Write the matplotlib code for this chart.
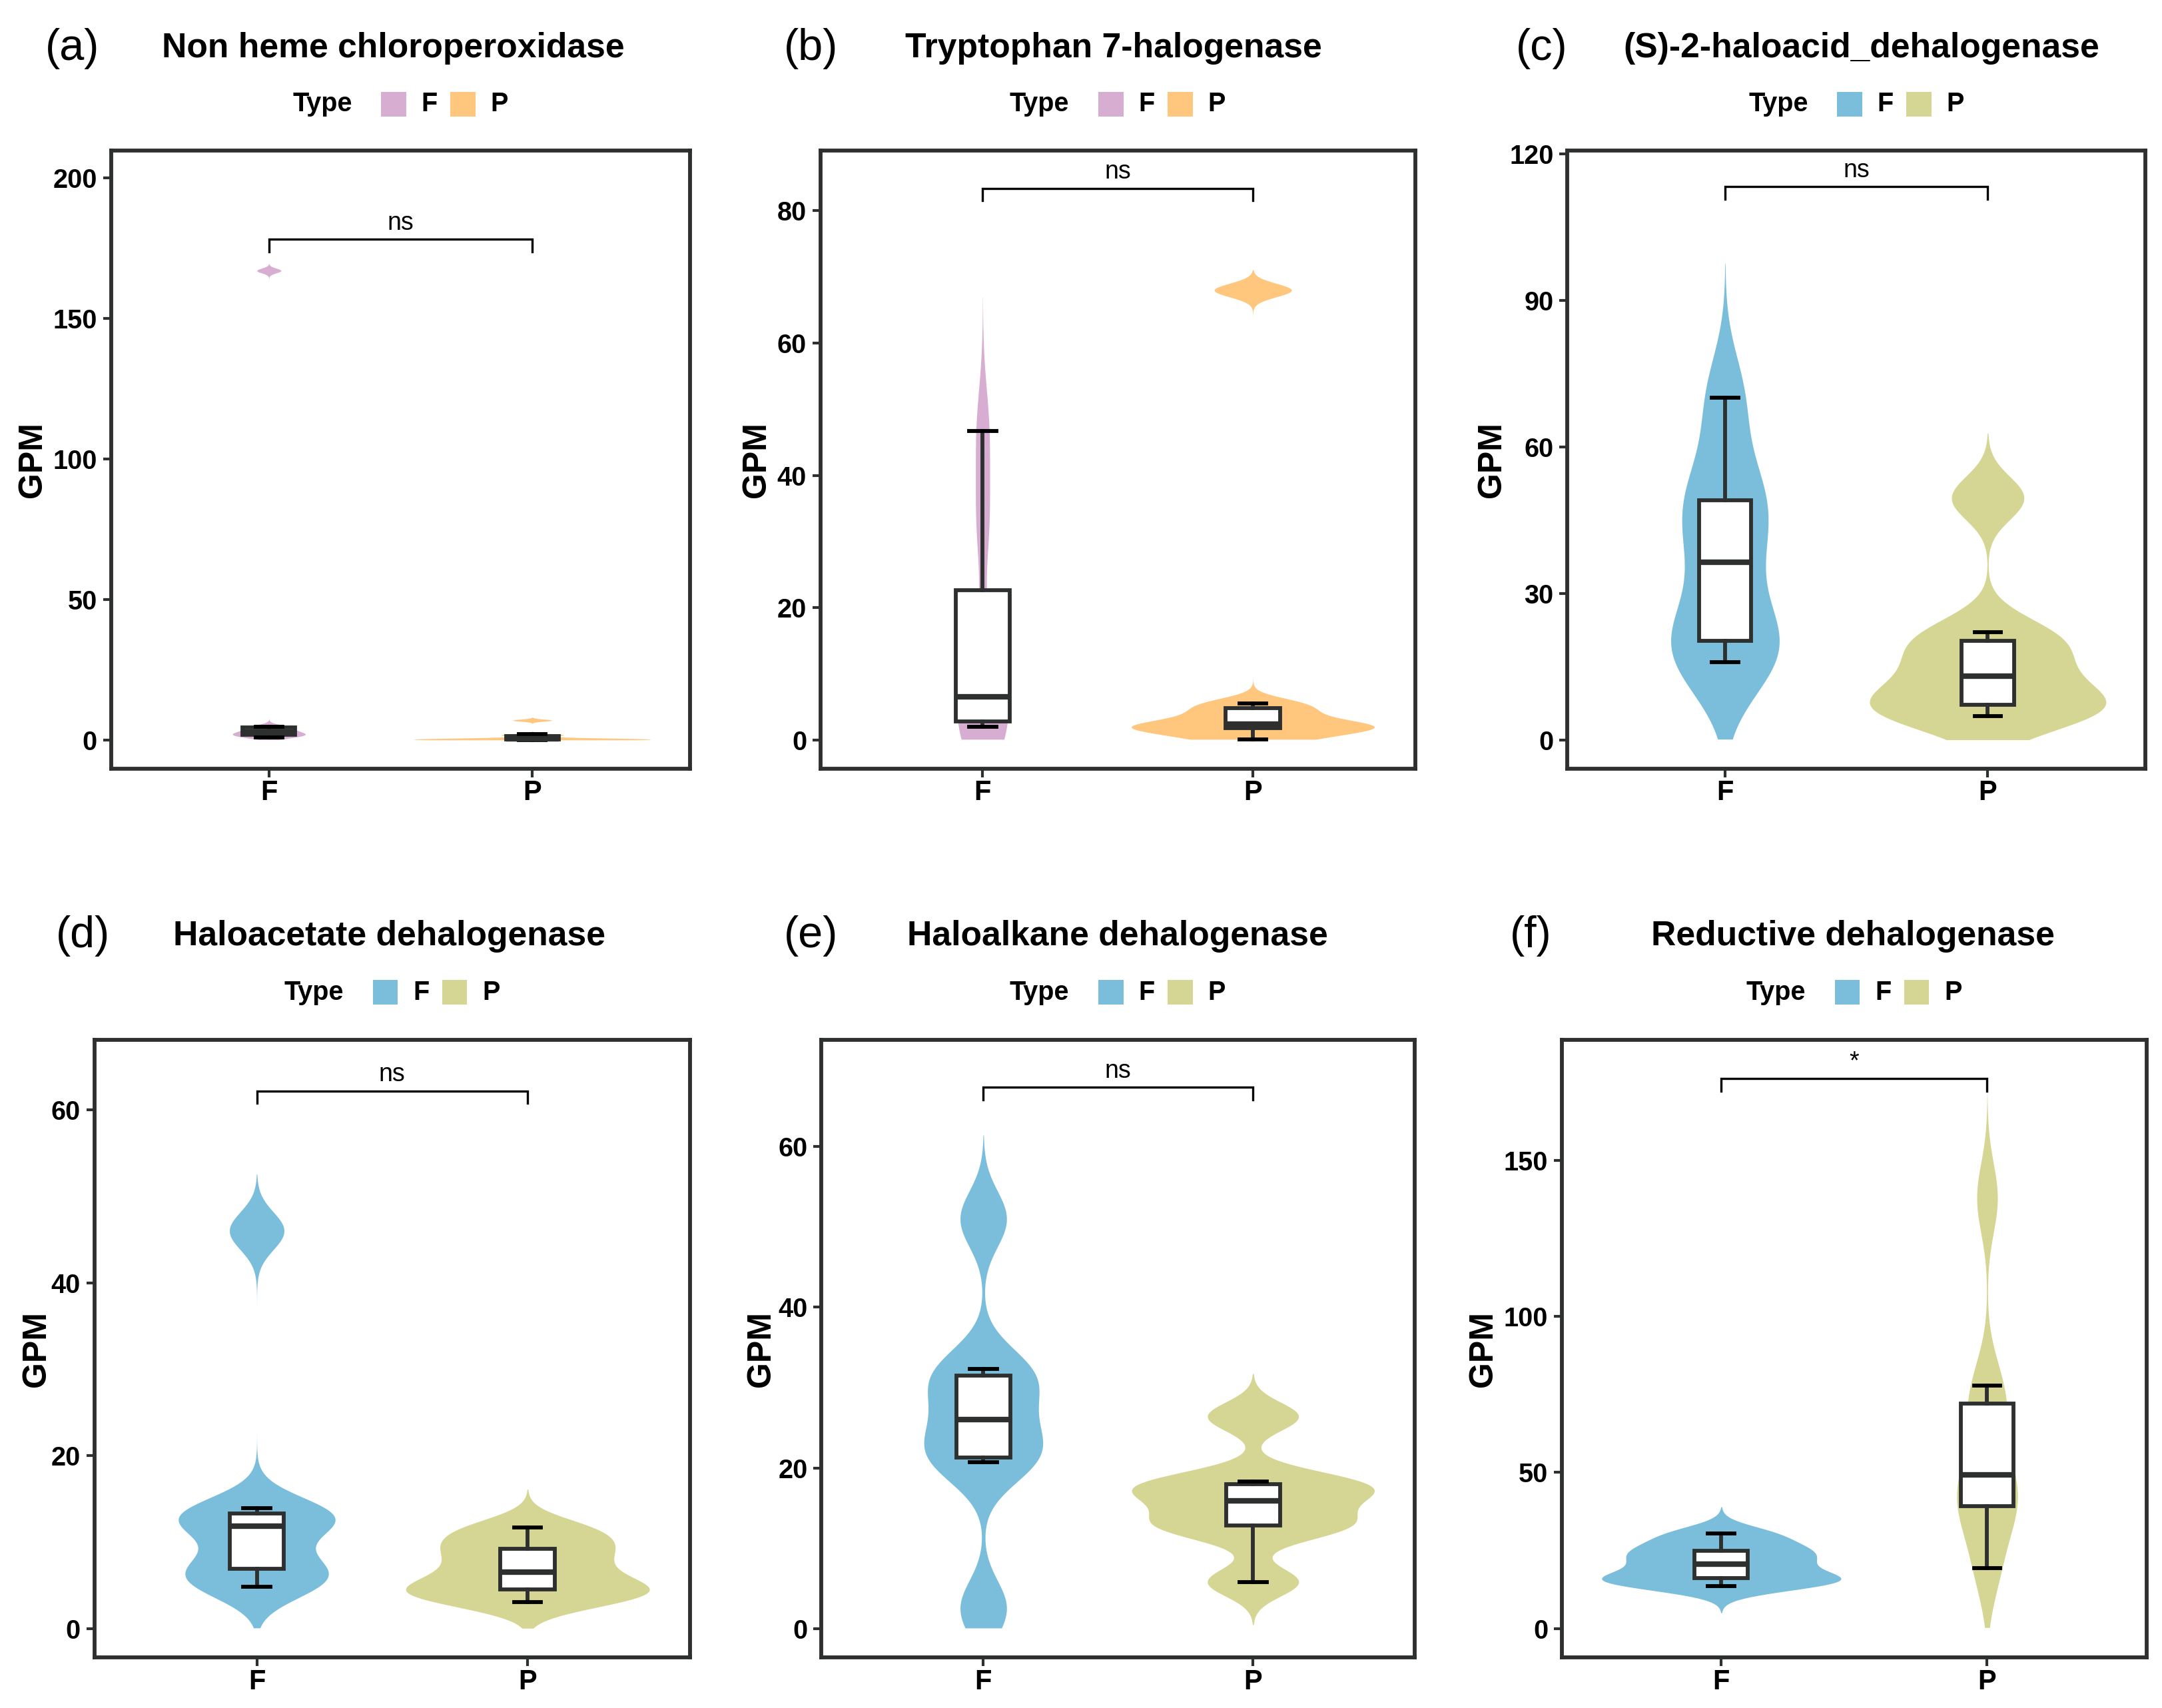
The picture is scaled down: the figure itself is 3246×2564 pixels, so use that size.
import numpy as np
import matplotlib
matplotlib.use("Agg")
import matplotlib.pyplot as plt
from matplotlib.patches import Rectangle

plt.rcParams['font.family'] = ['Liberation Sans', 'DejaVu Sans']

letters = ['(a)', '(b)', '(c)', '(d)', '(e)', '(f)']
titles = ['Non heme chloroperoxidase', 'Tryptophan 7-halogenase',
          '(S)-2-haloacid_dehalogenase', 'Haloacetate dehalogenase',
          'Haloalkane dehalogenase', 'Reductive dehalogenase']
groups = ['F', 'P']
signif = ['ns', 'ns', 'ns', 'ns', 'ns', '*']

a_F = [0.9, 1.6, 2.2, 2.8, 3.9, 4.8, 167.0]
a_P = [0.0, 0.0, 0.1, 0.2, 0.3, 0.4, 0.6, 1.5, 2.0, 7.0]
b_F = [2.0, 2.4, 3.2, 6.5, 12.0, 33.2, 46.7]
b_P = [0.1, 1.5, 2.0, 2.4, 4.0, 5.5, 68.0]
c_F = [15.9, 18.5, 21.9, 36.3, 46.2, 52.0, 70.0]
c_P = [4.8, 6.0, 8.4, 13.1, 18.3, 22.1, 49.5]
d_F = [4.8, 6.0, 7.8, 11.8, 12.7, 13.9, 46.0]
d_P = [3.05, 4.2, 4.8, 6.5, 8.4, 10.0, 11.7]
e_F = [2.5, 20.7, 21.9, 26.0, 30.7, 32.3, 51.0]
e_P = [5.8, 12.3, 13.3, 15.9, 17.7, 18.3, 26.4]
f_F = [13.5, 15.5, 16.7, 20.6, 23.5, 26.3, 30.5]
f_P = [19.3, 37.0, 41.4, 49.2, 66.1, 77.9, 138.0]

data = [(a_F, a_P), (b_F, b_P), (c_F, c_P), (d_F, d_P), (e_F, e_P), (f_F, f_P)]

yticks = [[0, 50, 100, 150, 200], [0, 20, 40, 60, 80], [0, 30, 60, 90, 120],
          [0, 20, 40, 60], [0, 20, 40, 60], [0, 50, 100, 150]]

# ---- layout ----
ylims = [(-10.2, 209.7), (-4.35, 89.1), (-5.9, 120.65),
         (-3.36, 68.1), (-3.6, 73.3), (-9.3, 188.7)]
bracket_y = [178.2, 83.4, 113.3, 62.2, 67.4, 176.3]

rects = [[0.0513, 0.550, 0.2680, 0.3618],
         [0.3795, 0.550, 0.2750, 0.3618],
         [0.7250, 0.550, 0.2673, 0.3618],
         [0.0436, 0.0296, 0.2756, 0.3616],
         [0.3800, 0.0296, 0.2744, 0.3616],
         [0.7224, 0.0296, 0.2705, 0.3616]]
letter_x = [0.0333, 0.375, 0.713, 0.0385, 0.375, 0.708]
title_x = [0.182, 0.515, 0.861, 0.180, 0.517, 0.857]
legend_c = [0.1853, 0.517, 0.8587, 0.1814, 0.517, 0.8577]
gpm_x = [0.0150, 0.350, 0.690, 0.0170, 0.352, 0.686]
row_title_y = [0.9716, 0.452]
row_legend_y = [0.939, 0.419]

pink, orange = '#D8ADD2', '#FFC67D'
blue, olive = '#7BBEDC', '#D6D694'
palettes = [(pink, orange), (pink, orange), (blue, olive),
            (blue, olive), (blue, olive), (blue, olive)]
dark = '#2D302F'
adjust = 0.75


def nrd0(x):
    q1, q3 = np.percentile(x, [25, 75])
    lo = min(np.std(x, ddof=1), (q3 - q1) / 1.34)
    return 0.9 * lo * len(x) ** -0.2


def ydensity(values):
    x = np.asarray(values, float)
    bw = nrd0(x) * adjust
    grid = np.linspace(x.min() - 3 * bw, x.max() + 3 * bw, 512)
    dens = np.exp(-0.5 * ((grid[:, None] - x[None, :]) / bw) ** 2).sum(1)
    dens /= len(x) * bw * np.sqrt(2 * np.pi)
    keep = grid >= 0
    return grid[keep], dens[keep]


fig = plt.figure(figsize=(3246 / 300, 2564 / 300), dpi=300)
W, H = 1560.0, 1232.0  # reference grid used for offsets

for i in range(6):
    ax = fig.add_axes(rects[i])
    vals = data[i]
    cols = palettes[i]

    dens = [ydensity(v) for v in vals]
    dmax = max(d.max() for _, d in dens)
    for k, (g, d) in enumerate(dens):
        half = 0.45 * d / dmax
        ax.fill_betweenx(g, k + 1 - half, k + 1 + half, color=cols[k], lw=0, zorder=1)

    ax.boxplot(vals, positions=[1, 2], widths=0.2, showfliers=False,
               patch_artist=True, capwidths=0.1,
               boxprops=dict(facecolor='white', edgecolor=dark, linewidth=1.4),
               whiskerprops=dict(color=dark, linewidth=1.4),
               capprops=dict(color='black', linewidth=1.4),
               medianprops=dict(color=dark, linewidth=2.0), zorder=3)

    ax.set_xlim(0.4, 2.6)
    ax.set_ylim(*ylims[i])
    ax.set_xticks([1, 2])
    ax.set_xticklabels(groups, fontsize=10, fontweight='bold')
    ax.set_yticks(yticks[i])
    ax.set_yticklabels([str(t) for t in yticks[i]], fontsize=9.5, fontweight='bold')
    ax.tick_params(length=3, width=1.0, color=dark, pad=2, labelcolor='black')
    ax.tick_params(axis='x', pad=1)
    for s in ax.spines.values():
        s.set_linewidth(1.4)
        s.set_color(dark)

    # significance bracket
    yb = bracket_y[i]
    tip = 0.02 * (ylims[i][1] - ylims[i][0])
    ax.plot([1, 1, 2, 2], [yb - tip, yb, yb, yb - tip], color='black', lw=0.8,
            solid_joinstyle='miter', zorder=4)
    ax.annotate(signif[i], (1.5, yb), xytext=(0, 1.5), textcoords='offset points',
                ha='center', va='bottom', fontsize=9)

    row = i // 3
    fig.text(letter_x[i], row_title_y[row], letters[i], fontsize=16,
             ha='center', va='center')
    fig.text(title_x[i], row_title_y[row], titles[i], fontsize=12.4,
             fontweight='bold', ha='center', va='center')
    fig.text(gpm_x[i], rects[i][1] + rects[i][3] / 2, 'GPM', fontsize=12,
             fontweight='bold', rotation=90, ha='center', va='center')

    # legend
    c = legend_c[i]
    ly = row_legend_y[row]
    fig.text(c - 78 / W, ly, 'Type', fontsize=9.5, fontweight='bold',
             ha='left', va='center')
    for k, off in enumerate([-14, 36]):
        fig.patches.append(Rectangle((c + off / W, ly - 9 / H), 18 / W, 18 / H,
                                     transform=fig.transFigure, color=cols[k], lw=0))
        fig.text(c + (off + 29) / W, ly, groups[k], fontsize=9.5, fontweight='bold',
                 ha='left', va='center')

fig.savefig('out.png', dpi=300)
